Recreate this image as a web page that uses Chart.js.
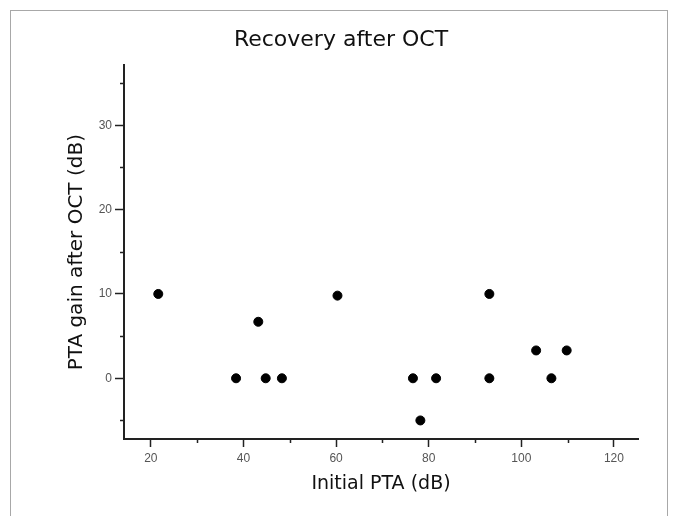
<!DOCTYPE html>
<html lang="en">
<head>
    <meta charset="UTF-8">
    <title>Recovery after OCT</title>
    <style>
        html, body { margin: 0; padding: 0; background: #fff; }
        body { width: 673px; height: 516px; position: relative; overflow: hidden; }
        .frame {
            position: absolute;
            left: 10px; top: 10px;
            width: 656px; height: 540px;
            border: 1px solid #a8a8a8;
        }
        .wrap { position: absolute; left: 0; top: 0; width: 673px; height: 516px; }
    </style>
</head>
<body>
    <div class="frame"></div>
    <div class="wrap"><canvas id="myChart" width="673" height="516"></canvas></div>

    <script src="https://cdn.jsdelivr.net/npm/chart.js@4/dist/chart.umd.min.js"></script>
    <script>
        // values
        const initialPTA = [21.6, 38.4, 43.2, 44.8, 48.3, 60.3, 76.6, 78.2, 81.6, 93.1, 93.1, 103.2, 106.5, 109.8];
        const ptaGain    = [10, 0, 6.7, 0, 0, 9.8, 0, -5, 0, 10, 0, 3.3, 0, 3.3];

        const xMajor = [20, 40, 60, 80, 100, 120];
        const yMajor = [0, 10, 20, 30];

        const points = initialPTA.map((v, i) => ({ x: v, y: ptaGain[i] }));

        // short ticks between the labelled ones
        const minorTicks = {
            id: 'minorTicks',
            afterDraw(chart) {
                const ctx = chart.ctx;
                const xs = chart.scales.x, ys = chart.scales.y;
                ctx.save();
                ctx.strokeStyle = '#222';
                ctx.lineWidth = 1.5;
                ctx.beginPath();
                xs.ticks.forEach(t => {
                    if (xMajor.includes(t.value)) return;
                    const px = Math.round(xs.getPixelForValue(t.value)) + 0.5;
                    ctx.moveTo(px, xs.top);
                    ctx.lineTo(px, xs.top + 4);
                });
                ys.ticks.forEach(t => {
                    if (yMajor.includes(t.value)) return;
                    const py = Math.round(ys.getPixelForValue(t.value)) + 0.5;
                    ctx.moveTo(ys.right, py);
                    ctx.lineTo(ys.right - 4, py);
                });
                ctx.stroke();
                ctx.restore();
            }
        };

        const tickFont = { family: 'Liberation Sans', size: 12 };

        new Chart(document.getElementById('myChart'), {
            type: 'scatter',
            data: {
                datasets: [{
                    data: points,
                    backgroundColor: '#000',
                    borderColor: '#000',
                    pointRadius: 4.5,
                    pointHoverRadius: 4.5
                }]
            },
            options: {
                responsive: false,
                animation: false,
                layout: { padding: { left: 44, right: 35, top: 10, bottom: 0 } },
                plugins: {
                    legend: { display: false },
                    tooltip: { enabled: false },
                    title: {
                        display: true,
                        text: 'Recovery after OCT',
                        color: '#111',
                        font: { family: 'DejaVu Sans', size: 22, weight: 'normal' },
                        padding: { top: 17, bottom: 12 }
                    }
                },
                scales: {
                    x: {
                        type: 'linear',
                        min: 14.2,
                        max: 125.2,
                        afterFit(scale) { scale.height = 77; },
                        border: { display: true, color: '#222', width: 2 },
                        grid: {
                            drawOnChartArea: false,
                            drawTicks: true,
                            tickLength: 8,
                            tickWidth: 1.5,
                            tickColor: ctx => xMajor.includes(ctx.tick.value) ? '#222' : 'rgba(0,0,0,0)'
                        },
                        ticks: {
                            stepSize: 10,
                            includeBounds: false,
                            maxRotation: 0,
                            autoSkip: false,
                            padding: 4,
                            color: '#555',
                            font: tickFont,
                            callback: v => xMajor.includes(v) ? String(v) : ''
                        },
                        title: {
                            display: true,
                            text: 'Initial PTA (dB)',
                            color: '#111',
                            font: { family: 'DejaVu Sans', size: 19 },
                            padding: { top: 0, bottom: 21 }
                        }
                    },
                    y: {
                        type: 'linear',
                        min: -7.2,
                        max: 37.1,
                        afterFit(scale) { scale.width = 80; },
                        border: { display: true, color: '#222', width: 2 },
                        grid: {
                            drawOnChartArea: false,
                            drawTicks: true,
                            tickLength: 9,
                            tickWidth: 1.5,
                            tickColor: ctx => yMajor.includes(ctx.tick.value) ? '#222' : 'rgba(0,0,0,0)'
                        },
                        ticks: {
                            stepSize: 5,
                            includeBounds: false,
                            autoSkip: false,
                            padding: 3,
                            color: '#555',
                            font: tickFont,
                            callback: v => yMajor.includes(v) ? String(v) : ''
                        },
                        title: {
                            display: true,
                            text: 'PTA gain after OCT (dB)',
                            color: '#111',
                            font: { family: 'DejaVu Sans', size: 20 },
                            padding: { top: 21, bottom: 0 }
                        }
                    }
                }
            },
            plugins: [minorTicks]
        });
    </script>
</body>
</html>
